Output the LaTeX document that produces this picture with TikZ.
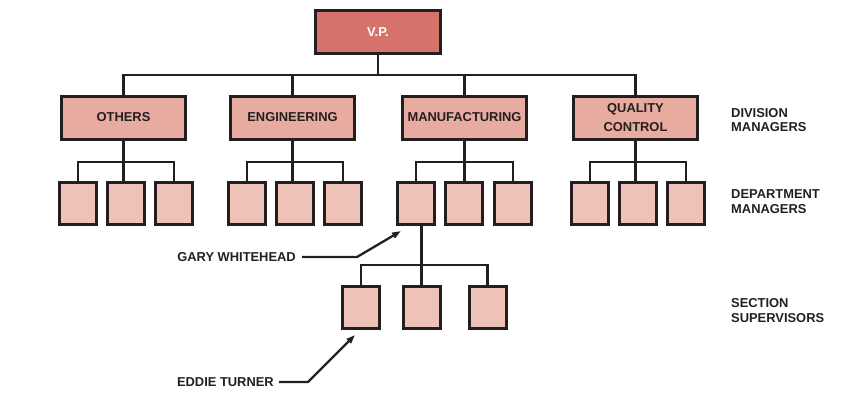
\documentclass[tikz,border=0pt]{standalone}
\usepackage{fontspec}
\setmainfont{Liberation Sans}
\usetikzlibrary{arrows.meta,calc}
\definecolor{vpfill}{HTML}{D5736B}
\definecolor{divfill}{HTML}{E8ABA0}
\definecolor{depfill}{HTML}{EEC2B7}
\definecolor{ink}{HTML}{231F20}
\begin{document}
\begin{tikzpicture}[x=1pt,y=-1pt,
  txt/.style={font=\bfseries\fontsize{12.9}{14.5}\selectfont},
  vpbox/.style={draw=ink, line width=3pt, fill=vpfill, minimum width=125pt, minimum height=43pt, inner sep=0pt, text=white, txt},
  divbox/.style={draw=ink, line width=3pt, fill=divfill, minimum width=124pt, minimum height=43pt, inner sep=0pt, text=ink, align=center, font=\bfseries\fontsize{12.9}{18.5}\selectfont},
  depbox/.style={draw=ink, line width=3pt, fill=depfill, minimum width=37pt, minimum height=42pt, inner sep=0pt},
  conn/.style={draw=ink, line width=2.3pt},
  arr/.style={conn, -{Triangle[length=9pt,width=6pt]}},
  lab/.style={text=ink, align=left, inner sep=0pt, txt}]
\useasboundingbox (0,0) rectangle (864,397);
\coordinate (vpb) at (378,75);
\coordinate (d1b) at (123.5,162);
\coordinate (d2b) at (292.5,162);
\coordinate (d3b) at (464.5,162);
\coordinate (d4b) at (635.5,162);
\coordinate (sb) at (421.5,265);
% nodes
\node[vpbox] (vp) at (378,32) {V.P.};
\node[divbox] (d1) at (123.5,117.5) {OTHERS};
\node[divbox] (d2) at (292.5,117.5) {ENGINEERING};
\node[divbox] (d3) at (464.5,117.5) {MANUFACTURING};
\node[divbox] (d4) at (635.5,117.5) {QUALITY\\CONTROL};
\foreach \n/\x in {o1/78,o2/126,o3/174,e1/246.7,e2/295,e3/343,m1/416.3,m2/464,m3/512.7,q1/590,q2/638,q3/686}
  \node[depbox] (\n) at (\x,203.5) {};
\foreach \n/\x in {s1/361,s2/422,s3/487.5}
  \node[depbox] (\n) at (\x,307.5) {};
% top level
\draw[conn] (vp.south) -- (vpb);
\foreach \d in {d1,d2,d3,d4} \draw[conn] (vpb) -| (\d.north);
% division to departments
\foreach \d/\a/\b/\c in {d1/o1/o2/o3,d2/e1/e2/e3,d3/m1/m2/m3,d4/q1/q2/q3}{
  \draw[conn] (\d.south) -- (\d b);
  \draw[conn] (\d b) -| (\a.north);
  \draw[conn] (\d b) -| (\c.north);
  \draw[conn] (\d b) -- (\d b |- \b.north);
}
% manufacturing dept to sections
\draw[conn] (sb |- m1.south) -- (sb |- s2.north);
\draw[conn] (sb) -| (s1.north);
\draw[conn] (sb) -| (s3.north);
% labels
\node[lab, anchor=east] (gary) at (296,257) {GARY WHITEHEAD};
\node[lab, anchor=east] (eddie) at (274,382) {EDDIE TURNER};
\coordinate (gtip) at (401,231);
\coordinate (etip) at (355,335);
\draw[arr] ([xshift=6pt]gary.east) -- ++(55,0) -- (gtip);
\draw[arr] ([xshift=5pt]eddie.east) -- ++(29,0) -- (etip);
\node[lab, anchor=west] (l1) at (731,120) {DIVISION\\MANAGERS};
\node[lab, anchor=west] (l2) at (731,201.5) {DEPARTMENT\\MANAGERS};
\node[lab, anchor=west] (l3) at (731,310.5) {SECTION\\SUPERVISORS};
\end{tikzpicture}
\end{document}
